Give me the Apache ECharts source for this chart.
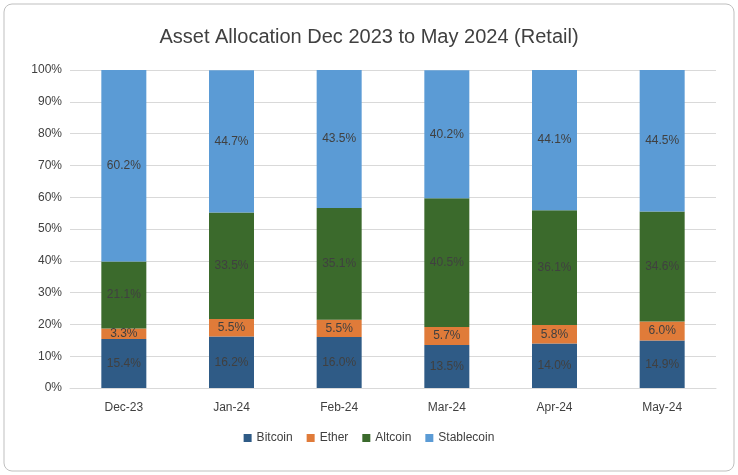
<!DOCTYPE html>
<html><head><meta charset="utf-8">
<script src="https://cdn.jsdelivr.net/npm/echarts@6/dist/echarts.min.js"></script>
<style>html,body{margin:0;padding:0;background:#fff}#c{width:738px;height:475px}</style>
</head><body><div id="c"></div>
<script>
var months = ['Dec-23', 'Jan-24', 'Feb-24', 'Mar-24', 'Apr-24', 'May-24'];
var bitcoin = [15.4, 16.2, 16.0, 13.5, 14.0, 14.9];
var ether = [3.3, 5.5, 5.5, 5.7, 5.8, 6.0];
var altcoin = [21.1, 33.5, 35.1, 40.5, 36.1, 34.6];
var stablecoin = [60.2, 44.7, 43.5, 40.2, 44.1, 44.5];

var chart = echarts.init(document.getElementById('c'));
function mk(name, data, color) {
    return {
        name: name, type: 'bar', stack: 'a', data: data, barWidth: 45,
        itemStyle: { color: color },
        label: { show: true, formatter: function (p) { return p.value.toFixed(1) + '%'; },
            color: '#404040', fontSize: 12, fontFamily: 'Liberation Sans' }
    };
}
chart.setOption({
    graphic: [{ type: 'rect', shape: { x: 4, y: 4, width: 730, height: 467, r: 8 },
        style: { fill: 'none', stroke: '#bfbfbf', lineWidth: 1 } }],
    title: { text: 'Asset Allocation Dec 2023 to May 2024 (Retail)', left: 'center', top: 22,
        textStyle: { fontSize: 20, fontWeight: 'normal', color: '#404040', fontFamily: 'Liberation Sans' } },
    legend: { bottom: 26, itemWidth: 8, itemHeight: 8, itemGap: 14, icon: 'rect',
        textStyle: { fontSize: 12, color: '#404040', fontFamily: 'Liberation Sans' },
        data: ['Bitcoin', 'Ether', 'Altcoin', 'Stablecoin'] },
    grid: { left: 70, right: 22, top: 70, bottom: 87 },
    xAxis: { type: 'category', data: months,
        axisLine: { lineStyle: { color: '#d9d9d9' } }, axisTick: { show: false },
        axisLabel: { color: '#404040', fontSize: 12, margin: 14, fontFamily: 'Liberation Sans' } },
    yAxis: { type: 'value', min: 0, max: 100, interval: 10,
        axisLabel: { formatter: '{value}%', color: '#404040', fontSize: 12, fontFamily: 'Liberation Sans' },
        splitLine: { lineStyle: { color: '#d9d9d9' } } },
    series: [
        mk('Bitcoin', bitcoin, '#2f5b86'),
        mk('Ether', ether, '#e07b39'),
        mk('Altcoin', altcoin, '#3b6a2c'),
        mk('Stablecoin', stablecoin, '#5b9bd5')
    ]
});
</script></body></html>
